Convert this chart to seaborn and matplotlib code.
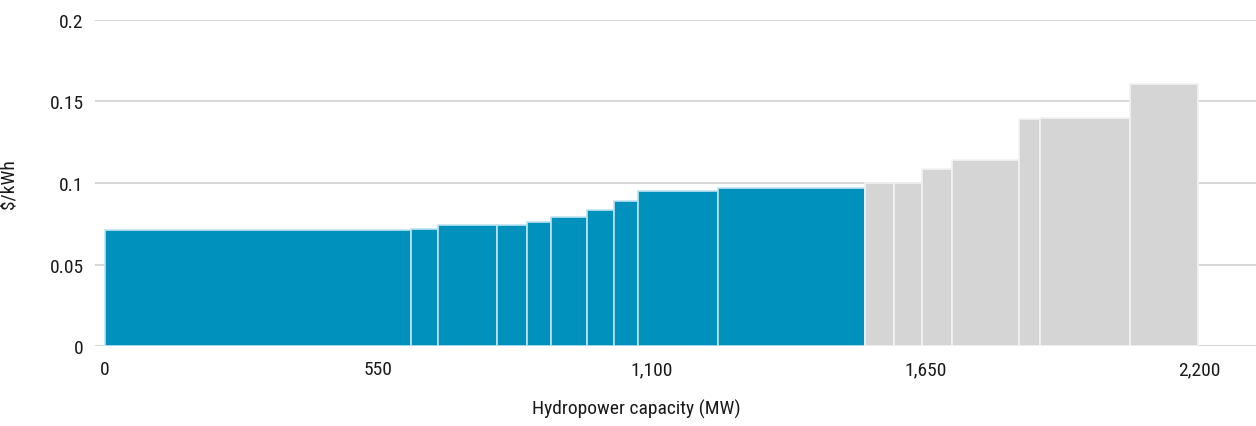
import numpy as np
import pandas as pd
import matplotlib
matplotlib.use("Agg")
import matplotlib.pyplot as plt
import seaborn as sns
from matplotlib import font_manager
from matplotlib.ticker import FixedLocator, FuncFormatter

# capacity of each project (MW) and its cost ($/kWh), in merit order
blue_capacity = [616, 53, 120, 59, 50, 72, 53, 50, 161, 295]
blue_cost = [0.0710, 0.0718, 0.0740, 0.0740, 0.0761, 0.0791, 0.0832, 0.0890, 0.0949, 0.0971]
grey_capacity = [57, 58, 60, 135, 42, 181, 137]
grey_cost = [0.0998, 0.0998, 0.1086, 0.1141, 0.1393, 0.1401, 0.1605]

x_ticks = [0, 550, 1100, 1650, 2200]
y_ticks = [0, 0.05, 0.1, 0.15, 0.2]
y_tick_labels = ["0", "0.05", "0.1", "0.15", "0.2"]

BLUE = "#0091BD"
GREY = "#D5D5D5"


def step_table(capacity, cost, start=0.0):
    edges = start + np.concatenate([[0], np.cumsum(capacity)])
    df = pd.DataFrame({"mid": (edges[:-1] + edges[1:]) / 2, "cost": cost})
    return df, [float(e) for e in edges]


sns.set_theme(style="white")
names = {f.name for f in font_manager.fontManager.ttflist}
narrow = [n for n in ["Liberation Sans Narrow", "Roboto Condensed", "Open Sans Condensed"] if n in names]
plt.rcParams["font.family"] = narrow + ["DejaVu Sans"]
plt.rcParams["font.stretch"] = "condensed"

blue_df, blue_edges = step_table(blue_capacity, blue_cost)
grey_df, grey_edges = step_table(grey_capacity, grey_cost, start=blue_edges[-1])

fig = plt.figure(figsize=(12.56, 4.27), dpi=100)
ax = fig.add_axes([0.0756, 0.187, 0.9244, 0.764])

sns.histplot(data=blue_df, x="mid", weights="cost", bins=blue_edges, color=BLUE,
             alpha=1, edgecolor="#BFE3EF", linewidth=1.2, ax=ax)
sns.histplot(data=grey_df, x="mid", weights="cost", bins=grey_edges, color=GREY,
             alpha=1, edgecolor="#F2F2F2", linewidth=1.2, ax=ax)

ax.set_xlim(-20, 2315)
ax.set_ylim(0, 0.2)
ax.yaxis.set_major_locator(FixedLocator(y_ticks))
ax.set_yticklabels(y_tick_labels)
ax.xaxis.set_major_locator(FixedLocator(x_ticks))
ax.xaxis.set_major_formatter(FuncFormatter(lambda v, p: f"{int(v):,}"))
ax.grid(axis="y", color="#D0D0D0", linewidth=1.2)
ax.set_axisbelow(True)
for s in ax.spines.values():
    s.set_visible(False)
ax.tick_params(axis="both", length=0, labelsize=14, colors="#1a1a1a")
ax.tick_params(axis="y", pad=8)
ax.tick_params(axis="x", pad=10)

ax.set_xlabel("Hydropower capacity (MW)", fontsize=14, color="#1a1a1a")
ax.xaxis.set_label_coords(0.466, -0.16)
ax.set_ylabel("$/kWh", fontsize=14, color="#1a1a1a")
ax.yaxis.set_label_coords(-0.066, 0.5)

fig.savefig("out.png", dpi=100)
